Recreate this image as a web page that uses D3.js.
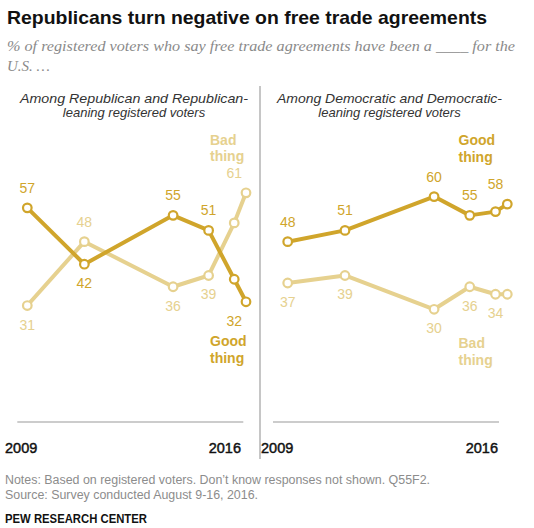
<!DOCTYPE html>
<html>
<head>
<meta charset="utf-8">
<script src="https://cdn.jsdelivr.net/npm/d3@7"></script>
<style>
  body { margin: 0; background: #fff; }
  svg { display: block; }
  text { font-family: "Liberation Sans", Arial, sans-serif; }
</style>
</head>
<body>
<div id="chart"></div>
<script>
// Survey dates (same waves for both panels)
var surveyDates = [ '2009-04-01', '2011-03-01', '2014-02-20', '2015-05-01', '2016-03-10', '2016-08-01' ];
var yearLabels = [ '2009', '2016' ];

// % saying free trade agreements have been a good / bad thing
var repGood = [ 57, 42, 55, 51, 38, 32 ];
var repBad  = [ 31, 48, 36, 39, 53, 61 ];
var demGood = [ 48, 51, 60, 55, 56, 58 ];
var demBad  = [ 37, 39, 30, 36, 34, 34 ];

// which waves get a number label
var showLabel = [ true, true, true, true, false, true ];

var seriesNames = [ 'Good thing', 'Bad thing' ];

var goodColor = '#d0a52b';
var badColor = '#e6d18f';

var width = 534, height = 528;

var svg = d3.select('#chart').append('svg')
  .attr('width', width)
  .attr('height', height);

var parseDate = d3.timeParse('%Y-%m-%d');
var dates = surveyDates.map( parseDate );

var y = d3.scaleLinear().domain([ 0, 100 ]).range([ 422, 46.3 ]);

// Title + subtitle
svg.append('text')
  .attr('x', 7).attr('y', 23.5)
  .attr('textLength', 480).attr('lengthAdjust', 'spacingAndGlyphs')
  .style('font-size', '19px').style('font-weight', 'bold').style('fill', '#111')
  .text('Republicans turn negative on free trade agreements');

svg.append('text')
  .attr('x', 7).attr('y', 51)
  .attr('textLength', 508).attr('lengthAdjust', 'spacingAndGlyphs')
  .style('font-family', '"Liberation Serif", "DejaVu Serif", serif')
  .style('font-style', 'italic').style('font-size', '15px').style('fill', '#8a8a8a')
  .text('% of registered voters who say free trade agreements have been a ____ for the');

svg.append('text')
  .attr('x', 7).attr('y', 71)
  .style('font-family', '"Liberation Serif", "DejaVu Serif", serif')
  .style('font-style', 'italic').style('font-size', '15px').style('fill', '#8a8a8a')
  .text('U.S. \u2026');

// Divider between panels
svg.append('line')
  .attr('x1', 260).attr('x2', 260)
  .attr('y1', 86).attr('y2', 459)
  .style('stroke', '#a8a8a8').style('stroke-width', 1.3);

var panels = [
  {
    head: [ 'Among Republican and Republican-', 'leaning registered voters' ],
    headX: 134, headLen: 228,
    range: [ 27.3, 246 ],
    axis: [ 17.3, 243.3 ],
    years: [ 5, 241 ],
    good: repGood, bad: repBad,
    goodTag: [ 210, 346 ], badTag: [ 210, 144.5 ]
  },
  {
    head: [ 'Among Democratic and Democratic-', 'leaning registered voters' ],
    headX: 389.5, headLen: 225,
    range: [ 287.7, 507.3 ],
    axis: [ 273, 499 ],
    years: [ 261, 498 ],
    good: demGood, bad: demBad,
    goodTag: [ 458.5, 145 ], badTag: [ 458.5, 348 ]
  }
];

var drawPanel = function ( p ) {
  var g = svg.append('g');
  var x = d3.scaleTime().domain( d3.extent( dates ) ).range( p.range );

  // header
  g.append('text')
    .attr('x', p.headX).attr('y', 103)
    .attr('text-anchor', 'middle')
    .attr('textLength', p.headLen).attr('lengthAdjust', 'spacingAndGlyphs')
    .style('font-style', 'italic').style('font-size', '13px').style('fill', '#333')
    .text( p.head[0] );
  g.append('text')
    .attr('x', p.headX).attr('y', 117)
    .attr('text-anchor', 'middle')
    .style('font-style', 'italic').style('font-size', '13px').style('fill', '#333')
    .text( p.head[1] );

  // baseline
  g.append('line')
    .attr('x1', p.axis[0]).attr('x2', p.axis[1])
    .attr('y1', y(0)).attr('y2', y(0))
    .style('stroke', '#999').style('stroke-width', 1);

  // year labels
  g.selectAll('text.year')
    .data( yearLabels )
    .enter().append('text')
    .attr('class', 'year')
    .attr('x', function ( d, i ) { return p.years[i]; })
    .attr('y', 452.5)
    .attr('text-anchor', function ( d, i ) { return i === 0 ? 'start' : 'end'; })
    .style('font-size', '14.5px').style('fill', '#111')
    .style('stroke', '#111').style('stroke-width', 0.45)
    .text( function ( d ) { return d; } );

  var line = d3.line()
    .x( function ( d, i ) { return x( dates[i] ); })
    .y( function ( d ) { return y( d ); });

  var series = [
    { key: 'bad', values: p.bad, other: p.good, color: badColor },
    { key: 'good', values: p.good, other: p.bad, color: goodColor }
  ];

  series.forEach( function ( s ) {
    g.append('path')
      .datum( s.values )
      .attr('d', line)
      .style('fill', 'none')
      .style('stroke', s.color)
      .style('stroke-width', 4)
      .style('stroke-linejoin', 'round');
  });

  series.forEach( function ( s ) {
    g.selectAll('circle.' + s.key)
      .data( s.values )
      .enter().append('circle')
      .attr('class', s.key)
      .attr('cx', function ( d, i ) { return x( dates[i] ); })
      .attr('cy', function ( d ) { return y( d ); })
      .attr('r', 4.3)
      .style('fill', '#fff')
      .style('stroke', s.color)
      .style('stroke-width', 2.2);

    // numbers go above when this series is the higher one, below otherwise
    g.selectAll('text.num-' + s.key)
      .data( s.values )
      .enter().filter( function ( d, i ) { return showLabel[i]; })
      .append('text')
      .attr('class', 'num-' + s.key)
      .attr('x', function ( d, i ) { return x( dates[i] ); })
      .attr('y', function ( d, i ) {
        return d >= s.other[i] ? y( d ) - 15 : y( d ) + 24;
      })
      .attr('text-anchor', 'middle')
      .style('font-size', '14px')
      .style('fill', s.color)
      .text( function ( d ) { return d; } );
  });

  // series name tags
  [ [ seriesNames[0], p.goodTag, goodColor ], [ seriesNames[1], p.badTag, badColor ] ].forEach( function ( t ) {
    var words = t[0].split(' ');
    g.selectAll(null)
      .data( words )
      .enter().append('text')
      .attr('x', t[1][0])
      .attr('y', function ( d, i ) { return t[1][1] + i * 16.5; })
      .style('font-size', '14px').style('font-weight', 'bold')
      .style('fill', t[2])
      .text( function ( d ) { return d; } );
  });
};

panels.forEach( drawPanel );

// Notes
svg.append('text')
  .attr('x', 5).attr('y', 484.3)
  .attr('textLength', 425).attr('lengthAdjust', 'spacingAndGlyphs')
  .style('font-size', '12.5px').style('fill', '#8c8c8c')
  .text('Notes: Based on registered voters. Don\u2019t know responses not shown. Q55F2.');
svg.append('text')
  .attr('x', 5).attr('y', 499.3)
  .attr('textLength', 253).attr('lengthAdjust', 'spacingAndGlyphs')
  .style('font-size', '12.5px').style('fill', '#8c8c8c')
  .text('Source: Survey conducted August 9-16, 2016.');
svg.append('text')
  .attr('x', 5).attr('y', 523.3)
  .attr('textLength', 142).attr('lengthAdjust', 'spacingAndGlyphs')
  .style('font-size', '12.5px').style('font-weight', 'bold').style('fill', '#111')
  .text('PEW RESEARCH CENTER');
</script>
</body>
</html>
